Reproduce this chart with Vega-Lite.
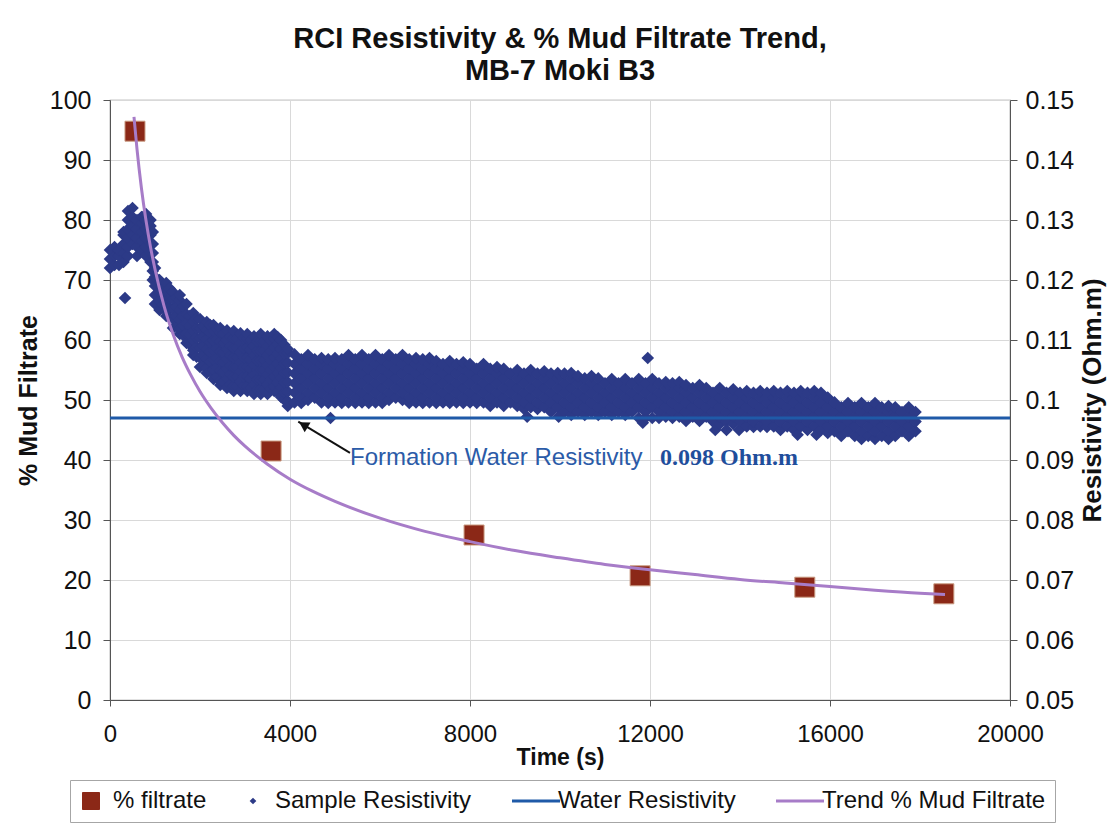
{
"$schema":"https://vega.github.io/schema/vega-lite/v6.json",
"width":900,"height":600,
"autosize":{"type":"none"},
"padding":{"left":110,"top":100,"right":99,"bottom":127},
"background":"white",
"config":{"font":"Liberation Sans","view":{"stroke":"#8c8c8c","strokeWidth":1.2}},
"title":{"text":["RCI Resistivity & % Mud Filtrate Trend,","MB-7 Moki B3"],"font":"Liberation Sans","fontSize":29,"fontWeight":"bold","color":"#111111","lineHeight":32,"anchor":"middle","offset":2},
"datasets":{
"sample":[
{"t":0,"r":0.122},{"t":0,"r":0.1235},{"t":0,"r":0.125},
{"t":100,"r":0.1225},{"t":100,"r":0.124},{"t":100,"r":0.1255},
{"t":200,"r":0.1225},{"t":200,"r":0.124},{"t":200,"r":0.125},
{"t":300,"r":0.123},{"t":300,"r":0.1245},{"t":300,"r":0.126},{"t":300,"r":0.1275},{"t":300,"r":0.128},
{"t":333,"r":0.117},
{"t":400,"r":0.124},{"t":400,"r":0.1255},{"t":400,"r":0.127},{"t":400,"r":0.1285},{"t":400,"r":0.13},{"t":400,"r":0.1315},
{"t":500,"r":0.126},{"t":500,"r":0.1275},{"t":500,"r":0.129},{"t":500,"r":0.1305},{"t":500,"r":0.132},
{"t":600,"r":0.124},{"t":600,"r":0.1255},{"t":600,"r":0.127},{"t":600,"r":0.1285},{"t":600,"r":0.13},
{"t":700,"r":0.125},{"t":700,"r":0.1265},{"t":700,"r":0.128},{"t":700,"r":0.1295},{"t":700,"r":0.1305},
{"t":800,"r":0.124},{"t":800,"r":0.1255},{"t":800,"r":0.127},{"t":800,"r":0.1285},{"t":800,"r":0.13},{"t":800,"r":0.131},
{"t":900,"r":0.123},{"t":900,"r":0.1245},{"t":900,"r":0.126},{"t":900,"r":0.1275},{"t":900,"r":0.129},{"t":900,"r":0.13},
{"t":950,"r":0.12},{"t":950,"r":0.1215},{"t":950,"r":0.123},{"t":950,"r":0.1245},{"t":950,"r":0.126},{"t":950,"r":0.128},
{"t":1000,"r":0.116},{"t":1000,"r":0.1175},{"t":1000,"r":0.119},{"t":1000,"r":0.1205},{"t":1000,"r":0.122},
{"t":1100,"r":0.115},{"t":1100,"r":0.1166},{"t":1100,"r":0.1182},{"t":1100,"r":0.12},
{"t":1175,"r":0.1158},{"t":1175,"r":0.1174},{"t":1175,"r":0.119},
{"t":1250,"r":0.114},{"t":1250,"r":0.1148},{"t":1250,"r":0.1164},{"t":1250,"r":0.118},{"t":1250,"r":0.1195},
{"t":1325,"r":0.1138},{"t":1325,"r":0.1154},{"t":1325,"r":0.117},{"t":1325,"r":0.1186},
{"t":1400,"r":0.112},{"t":1400,"r":0.1136},{"t":1400,"r":0.1152},{"t":1400,"r":0.1168},{"t":1400,"r":0.118},
{"t":1475,"r":0.1123},{"t":1475,"r":0.1139},{"t":1475,"r":0.1155},{"t":1475,"r":0.1171},
{"t":1550,"r":0.111},{"t":1550,"r":0.1118},{"t":1550,"r":0.1134},{"t":1550,"r":0.115},{"t":1550,"r":0.1166},{"t":1550,"r":0.1175},
{"t":1625,"r":0.1108},{"t":1625,"r":0.1124},{"t":1625,"r":0.114},{"t":1625,"r":0.1156},
{"t":1700,"r":0.1095},{"t":1700,"r":0.1111},{"t":1700,"r":0.1127},{"t":1700,"r":0.1143},{"t":1700,"r":0.116},
{"t":1775,"r":0.1092},{"t":1775,"r":0.1108},{"t":1775,"r":0.1124},{"t":1775,"r":0.114},
{"t":1850,"r":0.1075},{"t":1850,"r":0.1083},{"t":1850,"r":0.1099},{"t":1850,"r":0.1115},{"t":1850,"r":0.1131},{"t":1850,"r":0.1145},
{"t":1925,"r":0.1072},{"t":1925,"r":0.1088},{"t":1925,"r":0.1104},{"t":1925,"r":0.112},{"t":1925,"r":0.1136},
{"t":2000,"r":0.1055},{"t":2000,"r":0.1071},{"t":2000,"r":0.1087},{"t":2000,"r":0.1103},{"t":2000,"r":0.1119},{"t":2000,"r":0.1135},
{"t":2075,"r":0.1058},{"t":2075,"r":0.1074},{"t":2075,"r":0.109},{"t":2075,"r":0.1106},{"t":2075,"r":0.1122},
{"t":2150,"r":0.1045},{"t":2150,"r":0.1053},{"t":2150,"r":0.1069},{"t":2150,"r":0.1085},{"t":2150,"r":0.1101},{"t":2150,"r":0.1117},{"t":2150,"r":0.113},
{"t":2225,"r":0.1048},{"t":2225,"r":0.1064},{"t":2225,"r":0.108},{"t":2225,"r":0.1096},{"t":2225,"r":0.1112},{"t":2225,"r":0.1125},
{"t":2300,"r":0.1035},{"t":2300,"r":0.1051},{"t":2300,"r":0.1067},{"t":2300,"r":0.1083},{"t":2300,"r":0.1099},{"t":2300,"r":0.1115},{"t":2300,"r":0.1125},
{"t":2375,"r":0.1038},{"t":2375,"r":0.1054},{"t":2375,"r":0.107},{"t":2375,"r":0.1086},{"t":2375,"r":0.1102},{"t":2375,"r":0.1118},
{"t":2450,"r":0.1025},{"t":2450,"r":0.1033},{"t":2450,"r":0.1049},{"t":2450,"r":0.1065},{"t":2450,"r":0.1081},{"t":2450,"r":0.1097},{"t":2450,"r":0.1113},{"t":2450,"r":0.112},
{"t":2525,"r":0.1031},{"t":2525,"r":0.1047},{"t":2525,"r":0.1063},{"t":2525,"r":0.1079},{"t":2525,"r":0.1095},{"t":2525,"r":0.1111},
{"t":2600,"r":0.102},{"t":2600,"r":0.1036},{"t":2600,"r":0.1052},{"t":2600,"r":0.1068},{"t":2600,"r":0.1084},{"t":2600,"r":0.11},{"t":2600,"r":0.1116},
{"t":2675,"r":0.1026},{"t":2675,"r":0.1042},{"t":2675,"r":0.1058},{"t":2675,"r":0.1074},{"t":2675,"r":0.109},{"t":2675,"r":0.1106},
{"t":2750,"r":0.1015},{"t":2750,"r":0.1023},{"t":2750,"r":0.1039},{"t":2750,"r":0.1055},{"t":2750,"r":0.1071},{"t":2750,"r":0.1087},{"t":2750,"r":0.1103},{"t":2750,"r":0.1115},
{"t":2825,"r":0.1023},{"t":2825,"r":0.1039},{"t":2825,"r":0.1055},{"t":2825,"r":0.1071},{"t":2825,"r":0.1087},{"t":2825,"r":0.1103},
{"t":2900,"r":0.1015},{"t":2900,"r":0.1031},{"t":2900,"r":0.1047},{"t":2900,"r":0.1063},{"t":2900,"r":0.1079},{"t":2900,"r":0.1095},{"t":2900,"r":0.1111},
{"t":2975,"r":0.1023},{"t":2975,"r":0.1039},{"t":2975,"r":0.1055},{"t":2975,"r":0.1071},{"t":2975,"r":0.1087},{"t":2975,"r":0.1103},
{"t":3050,"r":0.1015},{"t":3050,"r":0.1023},{"t":3050,"r":0.1039},{"t":3050,"r":0.1055},{"t":3050,"r":0.1071},{"t":3050,"r":0.1087},{"t":3050,"r":0.1103},{"t":3050,"r":0.111},
{"t":3125,"r":0.102},{"t":3125,"r":0.1036},{"t":3125,"r":0.1052},{"t":3125,"r":0.1068},{"t":3125,"r":0.1084},{"t":3125,"r":0.11},
{"t":3200,"r":0.101},{"t":3200,"r":0.1026},{"t":3200,"r":0.1042},{"t":3200,"r":0.1058},{"t":3200,"r":0.1074},{"t":3200,"r":0.109},{"t":3200,"r":0.1106},
{"t":3275,"r":0.1018},{"t":3275,"r":0.1034},{"t":3275,"r":0.105},{"t":3275,"r":0.1066},{"t":3275,"r":0.1082},{"t":3275,"r":0.1098},
{"t":3350,"r":0.101},{"t":3350,"r":0.1018},{"t":3350,"r":0.1034},{"t":3350,"r":0.105},{"t":3350,"r":0.1066},{"t":3350,"r":0.1082},{"t":3350,"r":0.1098},{"t":3350,"r":0.111},
{"t":3425,"r":0.1018},{"t":3425,"r":0.1034},{"t":3425,"r":0.105},{"t":3425,"r":0.1066},{"t":3425,"r":0.1082},{"t":3425,"r":0.1098},
{"t":3500,"r":0.101},{"t":3500,"r":0.1026},{"t":3500,"r":0.1042},{"t":3500,"r":0.1058},{"t":3500,"r":0.1074},{"t":3500,"r":0.109},{"t":3500,"r":0.1106},
{"t":3575,"r":0.1018},{"t":3575,"r":0.1034},{"t":3575,"r":0.105},{"t":3575,"r":0.1066},{"t":3575,"r":0.1082},{"t":3575,"r":0.1098},
{"t":3650,"r":0.1015},{"t":3650,"r":0.1023},{"t":3650,"r":0.1039},{"t":3650,"r":0.1055},{"t":3650,"r":0.1071},{"t":3650,"r":0.1087},{"t":3650,"r":0.1103},{"t":3650,"r":0.111},
{"t":3725,"r":0.1013},{"t":3725,"r":0.1029},{"t":3725,"r":0.1045},{"t":3725,"r":0.1061},{"t":3725,"r":0.1077},{"t":3725,"r":0.1093},{"t":3725,"r":0.1105},
{"t":3800,"r":0.1005},{"t":3800,"r":0.1021},{"t":3800,"r":0.1037},{"t":3800,"r":0.1053},{"t":3800,"r":0.1069},{"t":3800,"r":0.1085},{"t":3800,"r":0.11},
{"t":3875,"r":0.1},{"t":3875,"r":0.1013},{"t":3875,"r":0.1029},{"t":3875,"r":0.1045},{"t":3875,"r":0.1061},{"t":3875,"r":0.1077},{"t":3875,"r":0.1092},
{"t":3950,"r":0.099},{"t":3950,"r":0.0998},{"t":3950,"r":0.1014},{"t":3950,"r":0.103},{"t":3950,"r":0.1046},{"t":3950,"r":0.1062},{"t":3950,"r":0.1078},{"t":3950,"r":0.1085},
{"t":4100,"r":0.0996},{"t":4100,"r":0.1012},{"t":4100,"r":0.1028},{"t":4100,"r":0.1044},{"t":4100,"r":0.106},{"t":4100,"r":0.1076},
{"t":4250,"r":0.0995},{"t":4250,"r":0.1004},{"t":4250,"r":0.102},{"t":4250,"r":0.1036},{"t":4250,"r":0.1052},{"t":4250,"r":0.1068},
{"t":4400,"r":0.1},{"t":4400,"r":0.1012},{"t":4400,"r":0.1028},{"t":4400,"r":0.1044},{"t":4400,"r":0.106},{"t":4400,"r":0.1075},
{"t":4550,"r":0.1004},{"t":4550,"r":0.102},{"t":4550,"r":0.1036},{"t":4550,"r":0.1052},{"t":4550,"r":0.1068},
{"t":4700,"r":0.0996},{"t":4700,"r":0.1012},{"t":4700,"r":0.1028},{"t":4700,"r":0.1044},{"t":4700,"r":0.106},{"t":4700,"r":0.107},
{"t":4850,"r":0.0995},{"t":4850,"r":0.1004},{"t":4850,"r":0.102},{"t":4850,"r":0.1036},{"t":4850,"r":0.1052},{"t":4850,"r":0.1068},
{"t":4900,"r":0.097},
{"t":5000,"r":0.0996},{"t":5000,"r":0.1012},{"t":5000,"r":0.1028},{"t":5000,"r":0.1044},{"t":5000,"r":0.106},{"t":5000,"r":0.107},
{"t":5150,"r":0.0995},{"t":5150,"r":0.1004},{"t":5150,"r":0.102},{"t":5150,"r":0.1036},{"t":5150,"r":0.1052},{"t":5150,"r":0.1068},
{"t":5300,"r":0.0996},{"t":5300,"r":0.1012},{"t":5300,"r":0.1028},{"t":5300,"r":0.1044},{"t":5300,"r":0.106},{"t":5300,"r":0.1075},
{"t":5450,"r":0.0995},{"t":5450,"r":0.1004},{"t":5450,"r":0.102},{"t":5450,"r":0.1036},{"t":5450,"r":0.1052},{"t":5450,"r":0.1068},
{"t":5600,"r":0.0996},{"t":5600,"r":0.1012},{"t":5600,"r":0.1028},{"t":5600,"r":0.1044},{"t":5600,"r":0.106},{"t":5600,"r":0.1075},
{"t":5750,"r":0.0995},{"t":5750,"r":0.1004},{"t":5750,"r":0.102},{"t":5750,"r":0.1036},{"t":5750,"r":0.1052},{"t":5750,"r":0.1068},
{"t":5900,"r":0.0996},{"t":5900,"r":0.1012},{"t":5900,"r":0.1028},{"t":5900,"r":0.1044},{"t":5900,"r":0.106},{"t":5900,"r":0.1075},
{"t":6050,"r":0.0995},{"t":6050,"r":0.1004},{"t":6050,"r":0.102},{"t":6050,"r":0.1036},{"t":6050,"r":0.1052},{"t":6050,"r":0.1068},
{"t":6200,"r":0.1},{"t":6200,"r":0.1012},{"t":6200,"r":0.1028},{"t":6200,"r":0.1044},{"t":6200,"r":0.106},{"t":6200,"r":0.1075},
{"t":6350,"r":0.1004},{"t":6350,"r":0.102},{"t":6350,"r":0.1036},{"t":6350,"r":0.1052},{"t":6350,"r":0.1068},
{"t":6500,"r":0.1},{"t":6500,"r":0.1012},{"t":6500,"r":0.1028},{"t":6500,"r":0.1044},{"t":6500,"r":0.106},{"t":6500,"r":0.1075},
{"t":6650,"r":0.0995},{"t":6650,"r":0.1004},{"t":6650,"r":0.102},{"t":6650,"r":0.1036},{"t":6650,"r":0.1052},{"t":6650,"r":0.1068},
{"t":6800,"r":0.0996},{"t":6800,"r":0.1012},{"t":6800,"r":0.1028},{"t":6800,"r":0.1044},{"t":6800,"r":0.106},{"t":6800,"r":0.107},
{"t":6950,"r":0.0995},{"t":6950,"r":0.1004},{"t":6950,"r":0.102},{"t":6950,"r":0.1036},{"t":6950,"r":0.1052},{"t":6950,"r":0.1068},
{"t":7100,"r":0.0996},{"t":7100,"r":0.1012},{"t":7100,"r":0.1028},{"t":7100,"r":0.1044},{"t":7100,"r":0.106},{"t":7100,"r":0.107},
{"t":7250,"r":0.0995},{"t":7250,"r":0.1004},{"t":7250,"r":0.102},{"t":7250,"r":0.1036},{"t":7250,"r":0.1052},{"t":7250,"r":0.1065},
{"t":7400,"r":0.0996},{"t":7400,"r":0.1012},{"t":7400,"r":0.1028},{"t":7400,"r":0.1044},{"t":7400,"r":0.106},
{"t":7550,"r":0.0995},{"t":7550,"r":0.1004},{"t":7550,"r":0.102},{"t":7550,"r":0.1036},{"t":7550,"r":0.1052},{"t":7550,"r":0.1065},
{"t":7700,"r":0.0996},{"t":7700,"r":0.1012},{"t":7700,"r":0.1028},{"t":7700,"r":0.1044},{"t":7700,"r":0.106},
{"t":7850,"r":0.0995},{"t":7850,"r":0.1004},{"t":7850,"r":0.102},{"t":7850,"r":0.1036},{"t":7850,"r":0.1052},{"t":7850,"r":0.1063},
{"t":8000,"r":0.0996},{"t":8000,"r":0.1012},{"t":8000,"r":0.1028},{"t":8000,"r":0.1044},{"t":8000,"r":0.106},
{"t":8150,"r":0.0995},{"t":8150,"r":0.1004},{"t":8150,"r":0.102},{"t":8150,"r":0.1036},{"t":8150,"r":0.1052},
{"t":8300,"r":0.0996},{"t":8300,"r":0.1012},{"t":8300,"r":0.1028},{"t":8300,"r":0.1044},{"t":8300,"r":0.106},
{"t":8450,"r":0.099},{"t":8450,"r":0.1004},{"t":8450,"r":0.102},{"t":8450,"r":0.1036},{"t":8450,"r":0.1052},
{"t":8600,"r":0.0996},{"t":8600,"r":0.1012},{"t":8600,"r":0.1028},{"t":8600,"r":0.1044},{"t":8600,"r":0.1055},
{"t":8750,"r":0.099},{"t":8750,"r":0.1004},{"t":8750,"r":0.102},{"t":8750,"r":0.1036},{"t":8750,"r":0.1052},
{"t":8900,"r":0.0996},{"t":8900,"r":0.1012},{"t":8900,"r":0.1028},{"t":8900,"r":0.1044},
{"t":9050,"r":0.099},{"t":9050,"r":0.1004},{"t":9050,"r":0.102},{"t":9050,"r":0.1036},{"t":9050,"r":0.105},
{"t":9200,"r":0.0985},{"t":9200,"r":0.0996},{"t":9200,"r":0.1012},{"t":9200,"r":0.1028},{"t":9200,"r":0.1044},
{"t":9270,"r":0.0972},
{"t":9350,"r":0.0988},{"t":9350,"r":0.1004},{"t":9350,"r":0.102},{"t":9350,"r":0.1036},{"t":9350,"r":0.105},
{"t":9500,"r":0.0985},{"t":9500,"r":0.0996},{"t":9500,"r":0.1012},{"t":9500,"r":0.1028},{"t":9500,"r":0.1044},
{"t":9650,"r":0.0988},{"t":9650,"r":0.1004},{"t":9650,"r":0.102},{"t":9650,"r":0.1036},{"t":9650,"r":0.1048},
{"t":9800,"r":0.098},{"t":9800,"r":0.0996},{"t":9800,"r":0.1012},{"t":9800,"r":0.1028},{"t":9800,"r":0.1044},
{"t":9950,"r":0.0988},{"t":9950,"r":0.1004},{"t":9950,"r":0.102},{"t":9950,"r":0.1036},{"t":9950,"r":0.1045},
{"t":9970,"r":0.0972},
{"t":10100,"r":0.098},{"t":10100,"r":0.0996},{"t":10100,"r":0.1012},{"t":10100,"r":0.1028},{"t":10100,"r":0.1044},
{"t":10250,"r":0.0975},{"t":10250,"r":0.0988},{"t":10250,"r":0.1004},{"t":10250,"r":0.102},{"t":10250,"r":0.1036},{"t":10250,"r":0.1045},
{"t":10400,"r":0.098},{"t":10400,"r":0.0996},{"t":10400,"r":0.1012},{"t":10400,"r":0.1028},{"t":10400,"r":0.104},
{"t":10550,"r":0.0975},{"t":10550,"r":0.0988},{"t":10550,"r":0.1004},{"t":10550,"r":0.102},{"t":10550,"r":0.1036},
{"t":10700,"r":0.098},{"t":10700,"r":0.0996},{"t":10700,"r":0.1012},{"t":10700,"r":0.1028},{"t":10700,"r":0.104},
{"t":10850,"r":0.0975},{"t":10850,"r":0.0988},{"t":10850,"r":0.1004},{"t":10850,"r":0.102},{"t":10850,"r":0.1036},
{"t":11000,"r":0.098},{"t":11000,"r":0.0996},{"t":11000,"r":0.1012},{"t":11000,"r":0.1028},
{"t":11150,"r":0.0975},{"t":11150,"r":0.0988},{"t":11150,"r":0.1004},{"t":11150,"r":0.102},{"t":11150,"r":0.1035},
{"t":11300,"r":0.098},{"t":11300,"r":0.0996},{"t":11300,"r":0.1012},{"t":11300,"r":0.1028},
{"t":11450,"r":0.0975},{"t":11450,"r":0.0988},{"t":11450,"r":0.1004},{"t":11450,"r":0.102},{"t":11450,"r":0.1035},
{"t":11600,"r":0.098},{"t":11600,"r":0.0996},{"t":11600,"r":0.1012},{"t":11600,"r":0.1028},
{"t":11750,"r":0.097},{"t":11750,"r":0.0988},{"t":11750,"r":0.1004},{"t":11750,"r":0.102},{"t":11750,"r":0.1035},
{"t":11840,"r":0.0962},
{"t":11900,"r":0.097},{"t":11900,"r":0.098},{"t":11900,"r":0.0996},{"t":11900,"r":0.1012},{"t":11900,"r":0.1028},
{"t":11950,"r":0.107},
{"t":12050,"r":0.097},{"t":12050,"r":0.0988},{"t":12050,"r":0.1004},{"t":12050,"r":0.102},{"t":12050,"r":0.1035},
{"t":12200,"r":0.097},{"t":12200,"r":0.098},{"t":12200,"r":0.0996},{"t":12200,"r":0.1012},{"t":12200,"r":0.1028},
{"t":12350,"r":0.0972},{"t":12350,"r":0.0988},{"t":12350,"r":0.1004},{"t":12350,"r":0.102},{"t":12350,"r":0.103},
{"t":12500,"r":0.097},{"t":12500,"r":0.098},{"t":12500,"r":0.0996},{"t":12500,"r":0.1012},{"t":12500,"r":0.1028},
{"t":12650,"r":0.0972},{"t":12650,"r":0.0988},{"t":12650,"r":0.1004},{"t":12650,"r":0.102},{"t":12650,"r":0.103},
{"t":12800,"r":0.0965},{"t":12800,"r":0.098},{"t":12800,"r":0.0996},{"t":12800,"r":0.1012},{"t":12800,"r":0.1025},
{"t":12950,"r":0.0972},{"t":12950,"r":0.0988},{"t":12950,"r":0.1004},{"t":12950,"r":0.102},
{"t":13100,"r":0.0965},{"t":13100,"r":0.098},{"t":13100,"r":0.0996},{"t":13100,"r":0.1012},{"t":13100,"r":0.1025},
{"t":13250,"r":0.0972},{"t":13250,"r":0.0988},{"t":13250,"r":0.1004},{"t":13250,"r":0.102},
{"t":13400,"r":0.0964},{"t":13400,"r":0.098},{"t":13400,"r":0.0996},{"t":13400,"r":0.1012},
{"t":13450,"r":0.095},
{"t":13550,"r":0.096},{"t":13550,"r":0.0972},{"t":13550,"r":0.0988},{"t":13550,"r":0.1004},{"t":13550,"r":0.102},
{"t":13700,"r":0.0964},{"t":13700,"r":0.098},{"t":13700,"r":0.0996},{"t":13700,"r":0.1012},{"t":13700,"r":0.095},
{"t":13850,"r":0.096},{"t":13850,"r":0.0972},{"t":13850,"r":0.0988},{"t":13850,"r":0.1004},{"t":13850,"r":0.1018},
{"t":13980,"r":0.095},
{"t":14000,"r":0.0964},{"t":14000,"r":0.098},{"t":14000,"r":0.0996},{"t":14000,"r":0.1012},
{"t":14150,"r":0.0956},{"t":14150,"r":0.0972},{"t":14150,"r":0.0988},{"t":14150,"r":0.1004},{"t":14150,"r":0.1015},
{"t":14300,"r":0.0955},{"t":14300,"r":0.0964},{"t":14300,"r":0.098},{"t":14300,"r":0.0996},{"t":14300,"r":0.1012},
{"t":14450,"r":0.0956},{"t":14450,"r":0.0972},{"t":14450,"r":0.0988},{"t":14450,"r":0.1004},{"t":14450,"r":0.1015},
{"t":14600,"r":0.0955},{"t":14600,"r":0.0964},{"t":14600,"r":0.098},{"t":14600,"r":0.0996},{"t":14600,"r":0.1012},
{"t":14750,"r":0.0956},{"t":14750,"r":0.0972},{"t":14750,"r":0.0988},{"t":14750,"r":0.1004},{"t":14750,"r":0.1015},
{"t":14900,"r":0.095},{"t":14900,"r":0.0964},{"t":14900,"r":0.098},{"t":14900,"r":0.0996},{"t":14900,"r":0.1012},
{"t":15050,"r":0.0956},{"t":15050,"r":0.0972},{"t":15050,"r":0.0988},{"t":15050,"r":0.1004},{"t":15050,"r":0.1015},
{"t":15200,"r":0.095},{"t":15200,"r":0.0964},{"t":15200,"r":0.098},{"t":15200,"r":0.0996},{"t":15200,"r":0.1012},
{"t":15280,"r":0.0942},
{"t":15350,"r":0.0956},{"t":15350,"r":0.0972},{"t":15350,"r":0.0988},{"t":15350,"r":0.1004},{"t":15350,"r":0.1015},
{"t":15500,"r":0.095},{"t":15500,"r":0.0964},{"t":15500,"r":0.098},{"t":15500,"r":0.0996},{"t":15500,"r":0.1012},
{"t":15650,"r":0.0956},{"t":15650,"r":0.0972},{"t":15650,"r":0.0988},{"t":15650,"r":0.1004},{"t":15650,"r":0.1015},
{"t":15700,"r":0.0942},
{"t":15800,"r":0.095},{"t":15800,"r":0.0964},{"t":15800,"r":0.098},{"t":15800,"r":0.0996},{"t":15800,"r":0.1012},
{"t":15950,"r":0.0945},{"t":15950,"r":0.0956},{"t":15950,"r":0.0972},{"t":15950,"r":0.0988},{"t":15950,"r":0.1004},
{"t":16100,"r":0.0948},{"t":16100,"r":0.0964},{"t":16100,"r":0.098},{"t":16100,"r":0.0996},
{"t":16250,"r":0.094},{"t":16250,"r":0.0956},{"t":16250,"r":0.0972},{"t":16250,"r":0.0988},
{"t":16400,"r":0.0948},{"t":16400,"r":0.0964},{"t":16400,"r":0.098},{"t":16400,"r":0.0995},
{"t":16550,"r":0.094},{"t":16550,"r":0.0956},{"t":16550,"r":0.0972},{"t":16550,"r":0.0988},
{"t":16700,"r":0.0935},{"t":16700,"r":0.0948},{"t":16700,"r":0.0964},{"t":16700,"r":0.098},{"t":16700,"r":0.0995},
{"t":16850,"r":0.094},{"t":16850,"r":0.0956},{"t":16850,"r":0.0972},{"t":16850,"r":0.0988},
{"t":17000,"r":0.0935},{"t":17000,"r":0.0948},{"t":17000,"r":0.0964},{"t":17000,"r":0.098},{"t":17000,"r":0.0995},
{"t":17150,"r":0.094},{"t":17150,"r":0.0956},{"t":17150,"r":0.0972},{"t":17150,"r":0.0988},
{"t":17300,"r":0.0935},{"t":17300,"r":0.0948},{"t":17300,"r":0.0964},{"t":17300,"r":0.098},{"t":17300,"r":0.099},
{"t":17450,"r":0.094},{"t":17450,"r":0.0956},{"t":17450,"r":0.0972},{"t":17450,"r":0.0988},
{"t":17600,"r":0.0948},{"t":17600,"r":0.0964},{"t":17600,"r":0.098},
{"t":17750,"r":0.094},{"t":17750,"r":0.0956},{"t":17750,"r":0.0972},{"t":17750,"r":0.0988},
{"t":17900,"r":0.0948},{"t":17900,"r":0.0964},{"t":17900,"r":0.098}
],
"water":[{"t":0,"r":0.097},{"t":20000,"r":0.097}],
"filtrate":[{"t":555,"pct":94.8},{"t":3580,"pct":41.5},{"t":8090,"pct":27.5},{"t":11780,"pct":20.7},{"t":15440,"pct":18.8},{"t":18530,"pct":17.7}],
"trend":[{"t":533,"pct":97.2},{"t":600,"pct":91.8},{"t":700,"pct":85.2},{"t":800,"pct":79.9},{"t":900,"pct":75.5},{"t":1000,"pct":71.8},{"t":1200,"pct":65.7},{"t":1400,"pct":61.0},{"t":1600,"pct":57.2},{"t":1800,"pct":54.1},{"t":2000,"pct":51.4},{"t":2250,"pct":48.6},{"t":2500,"pct":46.2},{"t":2750,"pct":44.1},{"t":3000,"pct":42.3},{"t":3500,"pct":39.3},{"t":4000,"pct":36.8},{"t":4500,"pct":34.8},{"t":5000,"pct":33.1},{"t":6000,"pct":30.3},{"t":7000,"pct":28.1},{"t":8000,"pct":26.4},{"t":9000,"pct":24.9},{"t":10000,"pct":23.7},{"t":11000,"pct":22.6},{"t":12000,"pct":21.7},{"t":13000,"pct":20.9},{"t":14000,"pct":20.1},{"t":15000,"pct":19.5},{"t":16000,"pct":18.9},{"t":17000,"pct":18.3},{"t":18000,"pct":17.8},{"t":18556,"pct":17.6}],
"arrow":[{"t":5333,"pct":41.2,"t2":4184,"pct2":46.4}],
"arrowhead":[{"t":4298,"pct":45.87}],
"note":[{"t":5333,"pct":40.4,"label":"Formation Water Resistivity"}],
"value":[{"t":12222,"pct":40.4,"label":"0.098 Ohm.m"}]
},
"encoding":{"x":{"field":"t","type":"quantitative","scale":{"domain":[0,20000],"nice":false,"zero":false},
 "axis":{"values":[0,4000,8000,12000,16000,20000],"format":"d","title":"Time (s)","titleFontSize":23,"titleFontWeight":"bold","titleColor":"#111111","titlePadding":0,"labelFontSize":24,"labelColor":"#111111","labelPadding":16,"labelFlush":false,"labelOverlap":false,"tickSize":6,"tickColor":"#555555","domainColor":"#555555","grid":true,"gridColor":"#d9d9d9"}}},
"layer":[
 {"encoding":{"y":{"field":"r","type":"quantitative","scale":{"domain":[0.05,0.15],"nice":false,"zero":false},
   "axis":{"orient":"right","values":[0.05,0.06,0.07,0.08,0.09,0.1,0.11,0.12,0.13,0.14,0.15],"format":"~g","title":"Resistivity (Ohm.m)","titleAngle":270,"titleBaseline":"top","titleFontSize":26,"titleFontWeight":"bold","titleColor":"#111111","titlePadding":6,"labelFontSize":25,"labelColor":"#111111","labelPadding":8,"tickSize":7,"tickColor":"#555555","domainColor":"#555555","grid":false}}},
  "layer":[
   {"data":{"name":"sample"},"mark":{"type":"point","filled":true,"size":160,"opacity":1},
    "encoding":{
     "color":{"datum":"Sample Resistivity","type":"nominal","scale":{"domain":["% filtrate","Sample Resistivity","Water Resistivity","Trend % Mud Filtrate"],"range":["#8b2817","#2c3a87","#1f5aa8","#a77cc8"]},
      "legend":{"title":null,"orient":"none","legendX":-40,"legendY":680,"direction":"horizontal","labelFontSize":24,"labelFont":"Liberation Sans","labelColor":"#111111","labelLimit":0,"symbolSize":2304,"labelOffset":10,"columnPadding":34,"padding":9,"strokeColor":"#a6a6a6","fillColor":"white",
       "encoding":{"symbols":{
        "size":{"value":{"expr":"datum.value === '% filtrate' ? 289 : datum.value === 'Sample Resistivity' ? 45 : 2304"}},
        "strokeWidth":{"value":{"expr":"datum.value === '% filtrate' ? 1 : datum.value === 'Sample Resistivity' ? 0 : 3"}},
        "fill":{"value":{"expr":"datum.value === '% filtrate' ? '#8b2817' : datum.value === 'Sample Resistivity' ? '#2c3a87' : 'transparent'"}},
        "stroke":{"value":{"expr":"datum.value === '% filtrate' ? '#c99a80' : datum.value === 'Sample Resistivity' ? '#2c3a87' : datum.value === 'Water Resistivity' ? '#1f5aa8' : '#a77cc8'"}},
        "opacity":{"value":1}}}}},
     "shape":{"datum":"Sample Resistivity","type":"nominal","scale":{"domain":["% filtrate","Sample Resistivity","Water Resistivity","Trend % Mud Filtrate"],"range":["square","diamond","stroke","stroke"]},
      "legend":{"title":null,"orient":"none","legendX":-40,"legendY":680,"direction":"horizontal","labelFontSize":24,"labelFont":"Liberation Sans","labelColor":"#111111","labelLimit":0,"symbolSize":2304,"labelOffset":10,"columnPadding":34,"padding":9,"strokeColor":"#a6a6a6","fillColor":"white"}}}},
   {"data":{"name":"water"},"mark":{"type":"line","strokeWidth":3},
    "encoding":{"color":{"datum":"Water Resistivity","type":"nominal"}}}
  ]},
 {"encoding":{"y":{"field":"pct","type":"quantitative","scale":{"domain":[0,100],"nice":false,"zero":false},
   "axis":{"orient":"left","values":[0,10,20,30,40,50,60,70,80,90,100],"title":"% Mud Filtrate","titleFontSize":25,"titleFontWeight":"bold","titleColor":"#111111","titlePadding":8,"labelFontSize":25,"labelColor":"#111111","labelPadding":12,"tickSize":7,"tickColor":"#555555","domainColor":"#555555","grid":true,"gridColor":"#d9d9d9"}}},
  "layer":[
   {"data":{"name":"filtrate"},"mark":{"type":"point","filled":true,"size":400,"opacity":1,"stroke":"#c99a80","strokeWidth":1},
    "encoding":{"color":{"datum":"% filtrate","type":"nominal"},"shape":{"datum":"% filtrate","type":"nominal"}}},
   {"data":{"name":"trend"},"mark":{"type":"line","strokeWidth":3,"interpolate":"monotone"},
    "encoding":{"color":{"datum":"Trend % Mud Filtrate","type":"nominal"}}},
   {"data":{"name":"arrow"},"mark":{"type":"rule","color":"#111111","strokeWidth":2},
    "encoding":{"x2":{"field":"t2"},"y2":{"field":"pct2"}}},
   {"data":{"name":"arrowhead"},"mark":{"type":"point","shape":"triangle-up","filled":true,"size":130,"angle":301,"color":"#111111","opacity":1},
    "encoding":{}},
   {"data":{"name":"note"},"mark":{"type":"text","align":"left","baseline":"middle","font":"Liberation Sans","fontSize":24,"color":"#2b5ba8"},
    "encoding":{"text":{"field":"label"}}},
   {"data":{"name":"value"},"mark":{"type":"text","align":"left","baseline":"middle","font":"Liberation Serif","fontSize":24,"fontWeight":"bold","color":"#1f4e9c"},
    "encoding":{"text":{"field":"label"}}}
  ]}
],
"resolve":{"scale":{"y":"independent"}}
}
